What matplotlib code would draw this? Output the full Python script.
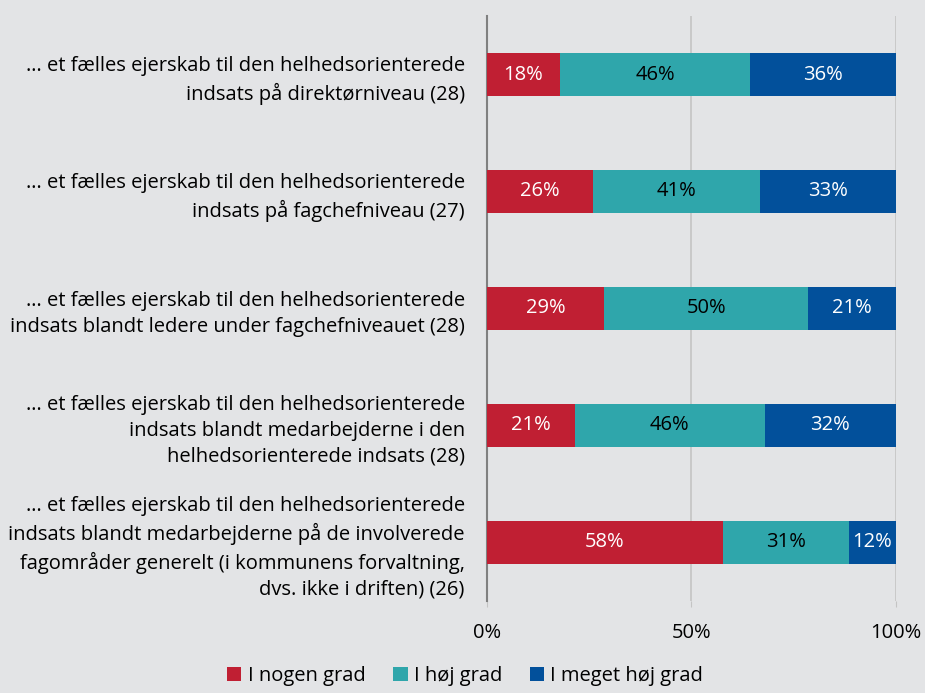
import matplotlib
import matplotlib.pyplot as plt
import numpy as np

matplotlib.use('Agg')

# answer categories and colours
series = ['I nogen grad', 'I høj grad', 'I meget høj grad']
colors = ['#c01f33', '#2fa6ab', '#02509b']
text_colors = ['white', 'black', 'white']

questions = [
    '… et fælles ejerskab til den helhedsorienterede\nindsats på direktørniveau (28)',
    '… et fælles ejerskab til den helhedsorienterede\nindsats på fagchefniveau (27)',
    '… et fælles ejerskab til den helhedsorienterede\nindsats blandt ledere under fagchefniveauet (28)',
    '… et fælles ejerskab til den helhedsorienterede\nindsats blandt medarbejderne i den\nhelhedsorienterede indsats (28)',
    '… et fælles ejerskab til den helhedsorienterede\nindsats blandt medarbejderne på de involverede\nfagområder generelt (i kommunens forvaltning,\ndvs. ikke i driften) (26)',
]

# number of answers per category (n in brackets)
nogen = [5, 7, 8, 6, 15]
hoej = [13, 11, 14, 13, 8]
meget = [10, 9, 6, 9, 3]

counts = np.array([nogen, hoej, meget], dtype=float)
shares = counts / counts.sum(axis=0) * 100

plt.rcParams['font.family'] = ['Open Sans', 'DejaVu Sans']
bg = '#e3e4e6'
fs = 14.5

fig = plt.figure(figsize=(9.25, 6.93), dpi=100, facecolor=bg)
ax = fig.add_axes([0.5265, 0.1328, 0.4421, 0.8441], facecolor=bg)

y = np.arange(len(questions))
left = np.zeros(len(questions))
for i, name in enumerate(series):
    ax.barh(y, shares[i], left=left, height=0.36, color=colors[i], label=name, zorder=3)
    for j in range(len(questions)):
        ax.text(left[j] + shares[i][j] / 2, y[j], f'{shares[i][j]:.0f}%',
                ha='center', va='center', color=text_colors[i], fontsize=fs, zorder=4)
    left += shares[i]

ax.set_xlim(0, 100)
ax.set_ylim(4.5, -0.5)
ax.set_yticks(y)
ax.set_yticklabels(questions, fontsize=fs, linespacing=1.4)
ax.set_xticks([0, 50, 100])
ax.set_xticklabels(['0%', '50%', '100%'], fontsize=fs)
ax.xaxis.grid(True, color='#c4c4c4', linewidth=1.2, zorder=0)
ax.tick_params(axis='y', length=0, pad=16)
ax.tick_params(axis='x', length=4, color='#c4c4c4', pad=12)
for s in ['top', 'right', 'bottom']:
    ax.spines[s].set_visible(False)
ax.spines['left'].set_color('#808080')
ax.spines['left'].set_linewidth(1.5)

fig.legend(loc='lower center', bbox_to_anchor=(0.503, -0.016), ncol=3, frameon=False,
           fontsize=fs, handlelength=0.7, handleheight=0.7, handletextpad=0.3,
           columnspacing=1.4)

fig.savefig('out.png', dpi=100, facecolor=bg)
